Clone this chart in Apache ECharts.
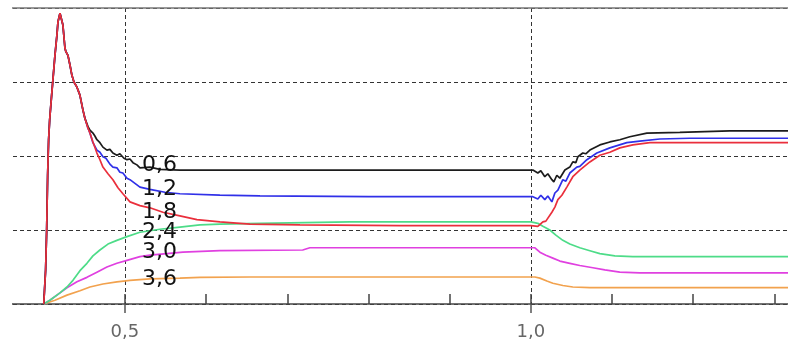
<!DOCTYPE html>
<html>
<head>
<meta charset="utf-8">
<script src="https://cdn.jsdelivr.net/npm/echarts@6/dist/echarts.min.js"></script>
<style>
  html, body { margin: 0; padding: 0; background: #fff; overflow: hidden; }
  #frame { position: absolute; left: 12px; top: 0; width: 776px; height: 345px; overflow: hidden; }
  #chart { position: absolute; left: -293px; top: 0; width: 1096px; height: 345px; }
</style>
</head>
<body>
<div id="frame"><div id="chart"></div></div>
<script>
// Curve names (parameter values) printed next to each line
const curveNames = ['0,6', '1,2', '1,8', '2,4', '3,0', '3,6'];
const curveColors = ['#1c1c1c', '#3030e8', '#ea2f3c', '#4ddc88', '#e040e0', '#f2a24e'];

// x position where each curve name is written
const labelX = 0.5185;

// [time, value] pairs
const curve06 = [
  [0.400, 0], [0.4023, 0.46], [0.4036, 1.00], [0.4048, 1.74], [0.4060, 2.22], [0.4073, 2.49],
  [0.4097, 2.82], [0.4138, 3.36], [0.4163, 3.64], [0.4175, 3.81], [0.4200, 3.93], [0.4224, 3.93],
  [0.4236, 3.77], [0.4261, 3.46], [0.4273, 3.41], [0.4298, 3.36], [0.4323, 3.23], [0.4347, 3.09],
  [0.4372, 3.00], [0.4409, 2.93], [0.4433, 2.86], [0.4446, 2.82], [0.4470, 2.69], [0.4483, 2.62],
  [0.4507, 2.51], [0.4544, 2.40], [0.4569, 2.35], [0.4606, 2.31], [0.4630, 2.27], [0.4655, 2.22],
  [0.4692, 2.18], [0.4729, 2.12], [0.4778, 2.08], [0.4815, 2.09], [0.4852, 2.04], [0.4901, 2.01],
  [0.4938, 2.03], [0.4988, 1.97], [0.5025, 1.95], [0.5062, 1.96], [0.5099, 1.91], [0.5148, 1.88],
  [0.5185, 1.84], [0.5308, 1.85], [0.5431, 1.82], [0.5677, 1.81], [0.7000, 1.81], [1.0000, 1.81],
  [1.0025, 1.81], [1.0086, 1.77], [1.0123, 1.80], [1.0172, 1.72], [1.0209, 1.76], [1.0259, 1.68],
  [1.0283, 1.65], [1.0320, 1.74], [1.0357, 1.70], [1.0419, 1.81], [1.0480, 1.85], [1.0517, 1.92],
  [1.0554, 1.91], [1.0579, 1.99], [1.0640, 2.04], [1.0677, 2.03], [1.0727, 2.08], [1.0850, 2.15],
  [1.0973, 2.19], [1.1096, 2.22], [1.1219, 2.26], [1.1429, 2.31], [1.1835, 2.32], [1.2451, 2.34],
  [1.3560, 2.34]
];

const curve12 = [
  [0.400, 0], [0.4023, 0.46], [0.4036, 1.00], [0.4048, 1.74], [0.4060, 2.22], [0.4073, 2.49],
  [0.4097, 2.82], [0.4138, 3.36], [0.4163, 3.64], [0.4175, 3.81], [0.4200, 3.93], [0.4224, 3.93],
  [0.4236, 3.77], [0.4261, 3.46], [0.4273, 3.41], [0.4298, 3.36], [0.4323, 3.23], [0.4347, 3.09],
  [0.4372, 3.00], [0.4409, 2.93], [0.4433, 2.86], [0.4446, 2.82], [0.4470, 2.69], [0.4483, 2.62],
  [0.4507, 2.51], [0.4544, 2.38], [0.4569, 2.31], [0.4606, 2.18], [0.4655, 2.08], [0.4692, 2.05],
  [0.4729, 1.99], [0.4766, 1.97], [0.4815, 1.89], [0.4852, 1.85], [0.4901, 1.84], [0.4938, 1.78],
  [0.4975, 1.77], [0.5025, 1.70], [0.5062, 1.68], [0.5111, 1.64], [0.5185, 1.58], [0.5308, 1.55],
  [0.5493, 1.51], [0.5677, 1.49], [0.6170, 1.47], [0.6663, 1.46], [0.8000, 1.45], [1.0000, 1.45],
  [1.0025, 1.45], [1.0086, 1.42], [1.0123, 1.47], [1.0172, 1.41], [1.0209, 1.46], [1.0259, 1.38],
  [1.0296, 1.50], [1.0333, 1.54], [1.0394, 1.68], [1.0431, 1.66], [1.0480, 1.77], [1.0566, 1.85],
  [1.0603, 1.86], [1.0690, 1.95], [1.0813, 2.04], [1.0973, 2.11], [1.1182, 2.18], [1.1342, 2.20],
  [1.1589, 2.23], [1.1958, 2.24], [1.3560, 2.24]
];

const curve18 = [
  [0.400, 0], [0.4023, 0.46], [0.4036, 1.00], [0.4048, 1.74], [0.4060, 2.22], [0.4073, 2.49],
  [0.4097, 2.82], [0.4138, 3.36], [0.4163, 3.64], [0.4175, 3.81], [0.4200, 3.93], [0.4224, 3.93],
  [0.4236, 3.77], [0.4261, 3.46], [0.4273, 3.41], [0.4298, 3.36], [0.4323, 3.23], [0.4347, 3.09],
  [0.4372, 3.00], [0.4409, 2.93], [0.4433, 2.86], [0.4446, 2.82], [0.4470, 2.69], [0.4483, 2.62],
  [0.4507, 2.51], [0.4544, 2.38], [0.4569, 2.31], [0.4606, 2.19], [0.4655, 2.04], [0.4692, 1.95],
  [0.4729, 1.85], [0.4791, 1.76], [0.4852, 1.68], [0.4914, 1.57], [0.4975, 1.49], [0.5062, 1.38],
  [0.5185, 1.33], [0.5308, 1.30], [0.5468, 1.24], [0.5677, 1.19], [0.5887, 1.14], [0.6170, 1.11],
  [0.6539, 1.08], [0.7155, 1.07], [0.8387, 1.06], [1.0000, 1.06], [1.0086, 1.05], [1.0148, 1.11],
  [1.0185, 1.12], [1.0209, 1.11], [1.0259, 1.24], [1.0296, 1.31], [1.0333, 1.41], [1.0382, 1.47],
  [1.0443, 1.58], [1.0517, 1.72], [1.0603, 1.81], [1.0727, 1.92], [1.0850, 2.01], [1.0973, 2.05],
  [1.1096, 2.11], [1.1256, 2.15], [1.1466, 2.18], [1.1835, 2.18], [1.3560, 2.18]
];

const curve24 = [
  [0.400, 0], [0.4076, 0.05], [0.4200, 0.15], [0.4286, 0.23], [0.4360, 0.32], [0.4446, 0.45],
  [0.4532, 0.55], [0.4606, 0.65], [0.4692, 0.73], [0.4791, 0.81], [0.4901, 0.86], [0.5025, 0.91],
  [0.5185, 0.97], [0.5431, 1.01], [0.5677, 1.04], [0.5924, 1.07], [0.6170, 1.08], [0.6663, 1.09],
  [0.7771, 1.11], [1.0000, 1.11], [1.0086, 1.09], [1.0148, 1.05], [1.0234, 1.00], [1.0308, 0.93],
  [1.0394, 0.86], [1.0480, 0.81], [1.0603, 0.76], [1.0727, 0.72], [1.0850, 0.68], [1.1034, 0.65],
  [1.1256, 0.64], [1.3560, 0.64]
];

const curve30 = [
  [0.400, 0], [0.4076, 0.05], [0.4200, 0.15], [0.4286, 0.22], [0.4409, 0.30], [0.4532, 0.36],
  [0.4655, 0.43], [0.4778, 0.50], [0.4901, 0.55], [0.5025, 0.59], [0.5185, 0.64], [0.5308, 0.66],
  [0.5517, 0.68], [0.5714, 0.70], [0.6170, 0.72], [0.7190, 0.73], [0.7278, 0.76], [1.0000, 0.76],
  [1.0050, 0.76], [1.0111, 0.70], [1.0185, 0.66], [1.0271, 0.62], [1.0357, 0.58], [1.0480, 0.55],
  [1.0603, 0.52], [1.0764, 0.49], [1.0911, 0.46], [1.1096, 0.43], [1.1342, 0.42], [1.3560, 0.42]
];

const curve36 = [
  [0.400, 0], [0.4138, 0.05], [0.4286, 0.12], [0.4446, 0.18], [0.4569, 0.23], [0.4729, 0.27],
  [0.4901, 0.30], [0.5062, 0.32], [0.5185, 0.33], [0.5308, 0.34], [0.5677, 0.35], [0.5924, 0.36],
  [0.6539, 0.365], [1.0000, 0.365], [1.0050, 0.365], [1.0111, 0.35], [1.0197, 0.31], [1.0271, 0.28],
  [1.0394, 0.25], [1.0517, 0.23], [1.0727, 0.22], [1.0936, 0.22], [1.3560, 0.22]
];

const curves = [curve06, curve12, curve18, curve24, curve30, curve36];
// vertical nudge of each name relative to its curve
const labelNudge = [-3, 2, 7, 0, -4, 0];

const decimalComma = v => v.toFixed(1).replace('.', ',');

const series = curves.map((pts, i) => ({
  name: curveNames[i],
  type: 'line',
  xAxisIndex: 0,
  yAxisIndex: 0,
  symbol: 'circle',
  symbolSize: 0,
  showSymbol: true,
  showAllSymbol: true,
  smooth: false,
  animation: false,
  z: i === 2 ? 8 : 6 - i,
  lineStyle: { color: curveColors[i], width: 1.7 },
  itemStyle: { color: curveColors[i] },
  data: pts.map(p => {
    if (Math.abs(p[0] - labelX) < 1e-6) {
      return {
        value: p,
        label: {
          show: true,
          position: 'right',
          distance: 2,
          offset: [0, labelNudge[i]],
          formatter: curveNames[i],
          color: '#111',
          fontFamily: 'DejaVu Sans',
          fontSize: 22
        }
      };
    }
    return p;
  })
}));

const dashed = { color: '#333', width: 1, type: [4, 3] };

const chart = echarts.init(document.getElementById('chart'), null, { renderer: 'canvas' });
chart.setOption({
  animation: false,
  backgroundColor: '#fff',
  grid: { left: 0, right: 0, top: 8, bottom: 41, containLabel: false },
  xAxis: [
    {
      type: 'value', min: 0, max: 1.35, interval: 0.5, position: 'bottom',
      axisLine: { show: true, lineStyle: { color: '#444', width: 1.5 } },
      axisTick: { show: true, inside: false, length: 9, lineStyle: { color: '#555', width: 1.5 } },
      axisLabel: {
        show: true, margin: 19, color: '#666', fontFamily: 'DejaVu Sans', fontSize: 18,
        showMaxLabel: false, showMinLabel: false,
        formatter: decimalComma
      },
      splitLine: { show: true, lineStyle: dashed }
    },
    {
      type: 'value', min: 0, max: 1.35, interval: 0.1, position: 'bottom',
      axisLine: { show: false },
      axisTick: { show: true, inside: true, length: 10, lineStyle: { color: '#444', width: 1.5 } },
      axisLabel: { show: false },
      splitLine: { show: false }
    },
    {
      type: 'value', min: 0, max: 1.35, position: 'top',
      axisLine: { show: true, lineStyle: { color: '#777', width: 1.5 } },
      axisTick: { show: false },
      axisLabel: { show: false },
      splitLine: { show: false }
    }
  ],
  yAxis: {
    type: 'value', min: 0, max: 4, interval: 1,
    axisLine: { show: false },
    axisTick: { show: false },
    axisLabel: { show: false },
    splitLine: { show: true, lineStyle: dashed }
  },
  series: series
});
</script>
</body>
</html>
